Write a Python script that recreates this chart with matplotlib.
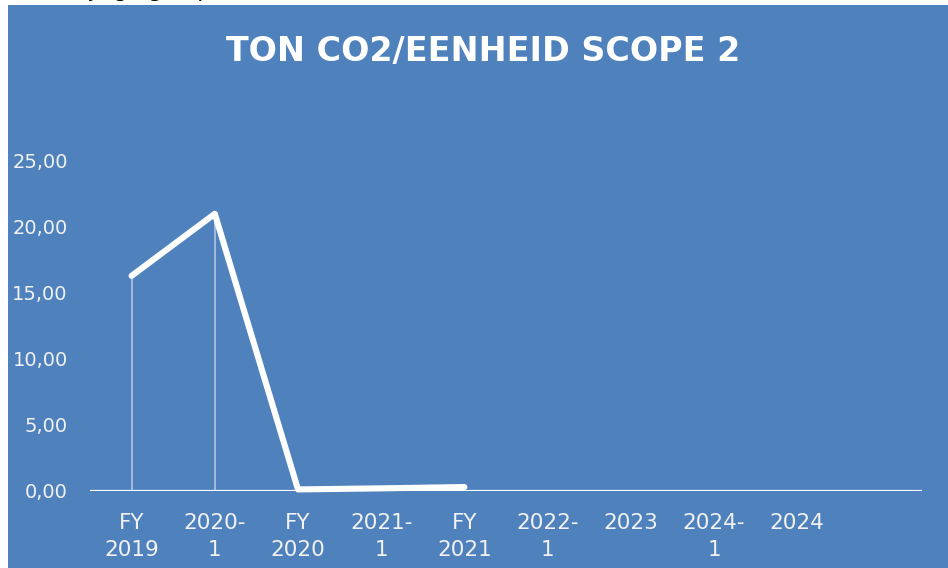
import matplotlib
matplotlib.use("Agg")
import matplotlib.pyplot as plt

# chart data
categories = ["FY\n2019", "2020-\n1", "FY\n2020", "2021-\n1", "FY\n2021",
              "2022-\n1", "2023", "2024-\n1", "2024", ""]
values = [16.3, 21.0, 0.12, 0.2, 0.3]
y_ticks = [0, 5, 10, 15, 20, 25]
y_labels = ["0,00", "5,00", "10,00", "15,00", "20,00", "25,00"]
title = "TON CO2/EENHEID SCOPE 2"

W, H = 948, 568
BLUE = "#4F81BD"

fig = plt.figure(figsize=(W / 100, H / 100), dpi=100)
fig.patch.set_facecolor("white")

# blue chart area (page margin visible top and left)
bg = fig.add_axes([8 / W, 0, 1 - 8 / W, 1 - 5 / H], zorder=0)
bg.set_facecolor(BLUE)
bg.set_xticks([])
bg.set_yticks([])
for s in bg.spines.values():
    s.set_visible(False)

# cut-off line of page text above the chart
fig.text(65 / W, 1 + 3 / H, "wijzigingen per", fontsize=16, color="black",
         va="baseline", ha="left")

ax = fig.add_axes([90 / W, 77 / H, 832 / W, 330 / H], zorder=1)
ax.set_facecolor("none")

x = list(range(len(values)))

# drop lines from points to axis
for xi, v in zip(x, values):
    ax.plot([xi, xi], [0, v], color="white", lw=1.2, alpha=0.55,
            solid_capstyle="butt", zorder=2)

ax.axhline(0, color="white", lw=1.6, zorder=2)
ax.plot(x, values, color="white", lw=4.4, solid_capstyle="round",
        solid_joinstyle="round", clip_on=False, zorder=3)

ax.set_xlim(-0.5, len(categories) - 0.5)
ax.set_ylim(0, 25)
ax.set_xticks(range(len(categories)))
ax.set_xticklabels(categories, color="#F2F2F2", fontsize=15.5, linespacing=1.45)
ax.set_yticks(y_ticks)
ax.set_yticklabels(y_labels, color="#F2F2F2", fontsize=14)
ax.tick_params(axis="x", length=0, pad=16)
ax.tick_params(axis="y", length=0, pad=16)
for s in ax.spines.values():
    s.set_visible(False)

fig.text(483 / W, 1 - 51 / H, title, color="white", fontsize=24,
         fontweight="bold", ha="center", va="center")

fig.savefig("out.png", dpi=100)
